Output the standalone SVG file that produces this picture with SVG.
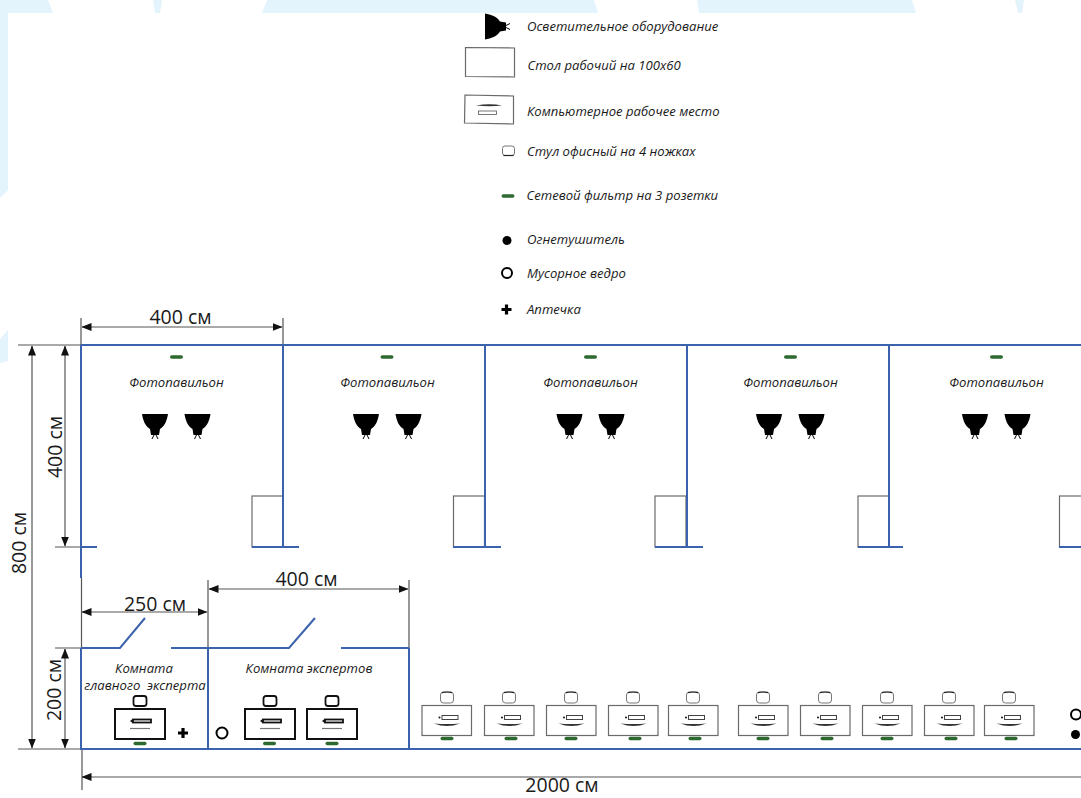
<svg xmlns="http://www.w3.org/2000/svg" width="1081" height="798" viewBox="0 0 1081 798">
<style>
text{font-family:"Open Sans","Noto Sans",sans-serif;fill:#1a1a1a}
.l{font-size:13.1px;font-style:italic}
.c{text-anchor:middle}
.d{font-size:19.5px;text-anchor:middle}
.w{fill:none;stroke:#3b62ad;stroke-width:2}
.dim{fill:none;stroke:#555;stroke-width:1.2}
.ext{fill:none;stroke:#555;stroke-width:1.2}
.tb{fill:#fff;stroke:#6a6a6a;stroke-width:1.2}
.tk{fill:#fff;stroke:#111;stroke-width:2}
.bg{fill:#e4f4fd}
</style>
<defs>
<marker id="a" viewBox="0 0 10 8" refX="9.5" refY="4" markerWidth="10" markerHeight="8" markerUnits="userSpaceOnUse" orient="auto-start-reverse"><path d="M0,0L10,4L0,8Z" fill="#111"/></marker>
<g id="lamp"><path d="M-13,0H13C12,6 10,12 5,15L4,21H-4L-5,15C-10,12 -12,6 -13,0Z" fill="#000"/><path d="M-1,21L-3,25M1,21L3,25" stroke="#000" stroke-width="1" fill="none"/></g>
<rect id="strip" x="-6.500" y="-1.800" width="13" height="3.600" rx="1.800" fill="#2d6a2f"/>
<g id="chairG"><rect x="-6.500" y="0" width="13" height="11" rx="3" fill="#fff" stroke="#777" stroke-width="1"/><path d="M-5,.6Q0,-.6 5,.6" stroke="#222" stroke-width="1.200" fill="none"/></g>
<rect id="chairK" x="-6.500" y="0" width="13" height="10" rx="2.500" fill="#fff" stroke="#111" stroke-width="1.800"/>
<g id="deskG"><rect x="0" y="0" width="49.500" height="30" class="tb"/><rect x="20" y="10" width="16" height="4" fill="#fff" stroke="#444" stroke-width="1"/><circle cx="17.500" cy="12" r="1" fill="#111"/><path d="M12,18Q25,19 38,18Q25,23 12,18Z" fill="#333"/></g>
<g id="deskK"><rect x="0" y="0" width="50" height="30" class="tk"/><rect x="18" y="10.500" width="18" height="3" fill="#fff" stroke="#111" stroke-width="1.800"/><path d="M15,12L18,9.800V14.200Z" fill="#111"/><path d="M15,19.500H35" stroke="#777" stroke-width="1.200"/></g>
<path id="cross" d="M-1.600,-5H1.600V-1.600H5V1.600H1.600V5H-1.600V1.600H-5V-1.600H-1.600Z" fill="#000"/>
</defs>
<rect width="1081" height="798" fill="#fff"/>
<g id="background">
<path class="bg" d="M0,0H48L53,13H8V190L0,198Z"/>
<path class="bg" d="M153,0H162L160,13H155Z"/>
<path class="bg" d="M267,0H594L598,13H262Z"/>
<path class="bg" d="M697,0H912L916,13H699Z"/>
<path class="bg" d="M1015,0H1024L1022,13H1018Z"/>
<path class="bg" d="M0,339L8,330V361L0,363Z"/>
</g>
<g id="connectors">
<path class="ext" d="M81,318V345M283,318V345M18,345H81M55,547H81M55,648H81M18,749H81M81.500,578V648M208,580V648M409,580V648M82,749V790"/>
<path class="dim" marker-start="url(#a)" marker-end="url(#a)" d="M82,327H282"/>
<path class="dim" marker-start="url(#a)" marker-end="url(#a)" d="M32,346V748"/>
<path class="dim" marker-start="url(#a)" marker-end="url(#a)" d="M65,346V546"/>
<path class="dim" marker-start="url(#a)" marker-end="url(#a)" d="M65,649V748"/>
<path class="dim" marker-start="url(#a)" marker-end="url(#a)" d="M82,612H207"/>
<path class="dim" marker-start="url(#a)" marker-end="url(#a)" d="M209,589H408"/>
<path class="dim" marker-start="url(#a)" d="M82,777H1081"/>
</g>
<g id="dimension-labels">
<text class="d" x="180.500" y="324">400 см</text>
<text class="d" x="155" y="611">250 см</text>
<text class="d" x="306.500" y="586">400 см</text>
<text class="d" x="562" y="792">2000 см</text>
<text class="d" transform="translate(26,543) rotate(-90)">800 см</text>
<text class="d" transform="translate(62,447) rotate(-90)">400 см</text>
<text class="d" transform="translate(61,690) rotate(-90)">200 см</text>
</g>
<g id="legend">
<g id="legend-lamp"><use href="#lamp" transform="translate(485,26.500) rotate(-90)"/></g>
<text class="l" x="527" y="31">Осветительное оборудование</text>
<g id="legend-table"><path class="tb" d="M465.500,47.500L514.500,48V77L465.500,76.500Z"/></g>
<text class="l" x="527.500" y="69.500">Стол рабочий на 100х60</text>
<g id="legend-workstation"><path class="tb" d="M465,95L513.500,96V124L464.500,123Z"/><path d="M476,105.500Q490,103 502,105.500Q490,107 476,105.500Z" fill="#333"/><rect x="478.500" y="111" width="18" height="3.500" fill="#fff" stroke="#555" stroke-width=".8"/></g>
<text class="l" x="527" y="116">Компьютерное рабочее место</text>
<g id="legend-chair"><rect x="502.500" y="146" width="12" height="9.500" rx="2.500" fill="#fff" stroke="#777" stroke-width="1"/><path d="M503.500,155.500H513.500" stroke="#222" stroke-width="1.200"/></g>
<text class="l" x="527" y="156">Стул офисный на 4 ножках</text>
<g id="legend-strip"><use href="#strip" x="508" y="196"/></g>
<text class="l" x="526.500" y="200">Сетевой фильтр на 3 розетки</text>
<g id="legend-extinguisher"><circle cx="507" cy="240.500" r="4.500" fill="#000"/></g>
<text class="l" x="527" y="244">Огнетушитель</text>
<g id="legend-bin"><circle cx="507" cy="273" r="5" fill="#fff" stroke="#000" stroke-width="2"/></g>
<text class="l" x="527" y="278">Мусорное ведро</text>
<g id="legend-kit"><use href="#cross" x="506.500" y="309.500"/></g>
<text class="l" x="527" y="314">Аптечка</text>
</g>
<g id="pavilion-tables">
<rect class="tb" x="252" y="496" width="31" height="51"/>
<rect class="tb" x="453.500" y="496" width="31" height="51"/>
<rect class="tb" x="655" y="496" width="31" height="51"/>
<rect class="tb" x="858" y="496" width="31" height="51"/>
<rect class="tb" x="1059.500" y="496" width="31" height="51"/>
</g>
<g id="walls">
<path class="w" d="M81,345H1081M81,345V578M283,345V547M485,345V547M687,345V547M889,345V547"/>
<path class="w" d="M81,547H97M252,547H299M453,547H501M655,547H703M858,547H903M1059,547H1081"/>
<path class="w" d="M81,648V749H1081M208,648V749M409,648V749"/>
<path class="w" d="M81,648H120L145,618M171,648H289L315,618M341,648H409"/>
</g>
<g id="pavilion-1"><use href="#strip" x="176.500" y="357"/><text class="l c" x="176.500" y="387">Фотопавильон</text><use href="#lamp" transform="translate(155,414)"/><use href="#lamp" transform="translate(197.500,414)"/></g>
<g id="pavilion-2"><use href="#strip" x="387" y="357"/><text class="l c" x="387.500" y="387">Фотопавильон</text><use href="#lamp" transform="translate(366,414)"/><use href="#lamp" transform="translate(408.500,414)"/></g>
<g id="pavilion-3"><use href="#strip" x="590.500" y="357"/><text class="l c" x="590.500" y="387">Фотопавильон</text><use href="#lamp" transform="translate(569.500,414)"/><use href="#lamp" transform="translate(611.500,414)"/></g>
<g id="pavilion-4"><use href="#strip" x="790.500" y="357"/><text class="l c" x="790.500" y="387">Фотопавильон</text><use href="#lamp" transform="translate(769,414)"/><use href="#lamp" transform="translate(811.500,414)"/></g>
<g id="pavilion-5"><use href="#strip" x="996.500" y="357"/><text class="l c" x="996.500" y="387">Фотопавильон</text><use href="#lamp" transform="translate(975,414)"/><use href="#lamp" transform="translate(1017.500,414)"/></g>
<g id="room-chief">
<text class="l c" x="144" y="673">Комната</text>
<text class="l c" x="145" y="690" xml:space="preserve">главного  эксперта</text>
<use href="#chairK" x="140" y="696"/><use href="#deskK" x="115" y="709"/><use href="#strip" x="140" y="743.500"/>
<use href="#cross" x="183" y="733"/>
</g>
<g id="room-experts">
<text class="l c" x="309" y="673">Комната экспертов</text>
<circle cx="222" cy="733" r="5.500" fill="#fff" stroke="#000" stroke-width="2"/>
<use href="#chairK" x="270" y="696"/><use href="#deskK" x="245" y="709"/><use href="#strip" x="269.500" y="743.500"/>
<use href="#chairK" x="332" y="696"/><use href="#deskK" x="307" y="709"/><use href="#strip" x="332" y="743.500"/>
</g>
<g id="workstation-1"><use href="#chairG" x="447" y="692"/><use href="#deskG" x="422" y="705.500"/><use href="#strip" x="447" y="738.500"/></g>
<g id="workstation-2"><use href="#chairG" x="509" y="692"/><use href="#deskG" x="484.500" y="705.500"/><use href="#strip" x="511" y="738.500"/></g>
<g id="workstation-3"><use href="#chairG" x="571" y="692"/><use href="#deskG" x="546.500" y="705.500"/><use href="#strip" x="571" y="738.500"/></g>
<g id="workstation-4"><use href="#chairG" x="633" y="692"/><use href="#deskG" x="608.500" y="705.500"/><use href="#strip" x="635" y="738.500"/></g>
<g id="workstation-5"><use href="#chairG" x="693" y="692"/><use href="#deskG" x="668.500" y="705.500"/><use href="#strip" x="695" y="738.500"/></g>
<g id="workstation-6"><use href="#chairG" x="763" y="692"/><use href="#deskG" x="738.500" y="705.500"/><use href="#strip" x="763" y="738.500"/></g>
<g id="workstation-7"><use href="#chairG" x="825" y="692"/><use href="#deskG" x="800.500" y="705.500"/><use href="#strip" x="827" y="738.500"/></g>
<g id="workstation-8"><use href="#chairG" x="887" y="692"/><use href="#deskG" x="862.500" y="705.500"/><use href="#strip" x="887" y="738.500"/></g>
<g id="workstation-9"><use href="#chairG" x="949" y="692"/><use href="#deskG" x="924.500" y="705.500"/><use href="#strip" x="951" y="738.500"/></g>
<g id="workstation-10"><use href="#chairG" x="1009" y="692"/><use href="#deskG" x="984.500" y="705.500"/><use href="#strip" x="1011" y="738.500"/></g>
<g id="bin-right"><circle cx="1076" cy="714.500" r="5" fill="#fff" stroke="#000" stroke-width="2"/></g>
<g id="extinguisher-right"><circle cx="1075.500" cy="734.500" r="4.500" fill="#000"/></g>
</svg>
